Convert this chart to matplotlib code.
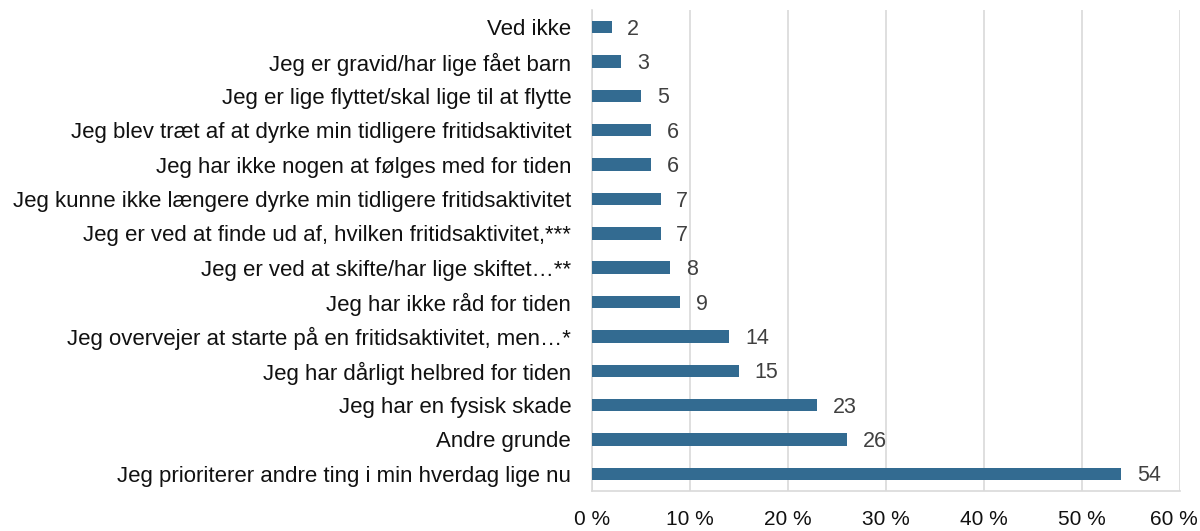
import matplotlib
matplotlib.use("Agg")
import matplotlib.pyplot as plt
import matplotlib.transforms as mtransforms

categories = [
    "Jeg prioriterer andre ting i min hverdag lige nu",
    "Andre grunde",
    "Jeg har en fysisk skade",
    "Jeg har dårligt helbred for tiden",
    "Jeg overvejer at starte på en fritidsaktivitet, men…*",
    "Jeg har ikke råd for tiden",
    "Jeg er ved at skifte/har lige skiftet…**",
    "Jeg er ved at finde ud af, hvilken fritidsaktivitet,***",
    "Jeg kunne ikke længere dyrke min tidligere fritidsaktivitet",
    "Jeg har ikke nogen at følges med for tiden",
    "Jeg blev træt af at dyrke min tidligere fritidsaktivitet",
    "Jeg er lige flyttet/skal lige til at flytte",
    "Jeg er gravid/har lige fået barn",
    "Ved ikke",
]
values = [54, 26, 23, 15, 14, 9, 8, 7, 7, 6, 6, 5, 3, 2]
xticks = [0, 10, 20, 30, 40, 50, 60]
xticklabels = ["0 %", "10 %", "20 %", "30 %", "40 %", "50 %", "60 %"]

plt.rcParams['font.family'] = ['Liberation Sans', 'DejaVu Sans']

fig = plt.figure(figsize=(12, 5.31), dpi=100)
ax = fig.add_axes([592/1200, 1-491/531, (1180-592)/1200, (491-10)/531])

y = list(range(len(categories)))
ax.barh(y, values, height=0.36, color="#336b91", zorder=3)
for yi, v in zip(y, values):
    ax.text(v + 1.6, yi - 0.06, str(v), va="center", ha="left", fontsize=15.5, color="#404040")

ax.set_xlim(0, 60)
ax.set_ylim(-0.5, len(categories) - 0.5)
ax.set_yticks(y)
ax.set_yticklabels(categories, fontsize=16, color="#111111")
ax.set_xticks(xticks)
ax.set_xticklabels(xticklabels, fontsize=15, color="#111111")
ax.tick_params(axis="x", length=0, pad=14)
ax.tick_params(axis="y", length=0, pad=15)
last = ax.get_xticklabels()[-1]
last.set_transform(last.get_transform() + mtransforms.ScaledTranslation(-6/100, 0, fig.dpi_scale_trans))
ax.grid(axis="x", color="#d9d9d9", linewidth=1.2, zorder=0)
for s in ["top", "right"]:
    ax.spines[s].set_visible(False)
ax.spines["left"].set_color("#d9d9d9")
ax.spines["left"].set_linewidth(1.2)
ax.spines["bottom"].set_color("#d9d9d9")
ax.spines["bottom"].set_linewidth(1.2)

fig.savefig("out.png", dpi=100)
